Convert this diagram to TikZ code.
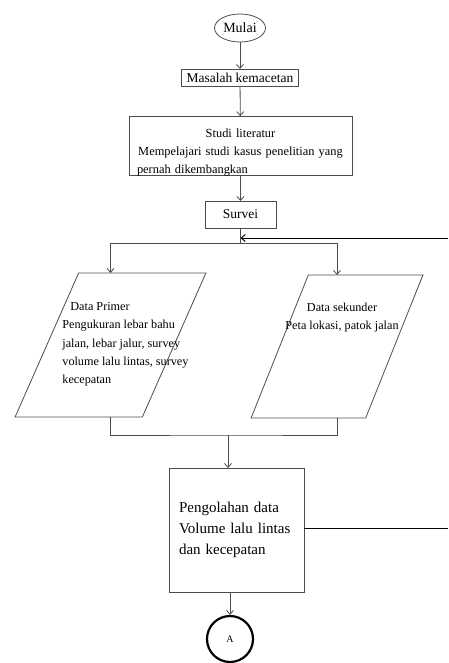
\documentclass[tikz,border=0pt]{standalone}
\usepackage{fontspec}
\setmainfont{Liberation Serif}
\usetikzlibrary{shapes.geometric,arrows.meta}
\tikzset{every picture/.style = {x=1pt, y=-1pt, line width=0.8pt}}
\tikzset{garis/.style = {draw=black!70}}
\tikzset{panah/.style = {garis, -{Straight Barb[length=4pt,width=7pt]}}}
\tikzset{kotak/.style = {draw=black!70, shape=rectangle, inner sep=0pt, outer sep=0pt}}
\tikzset{dataio/.style = {draw=black!70, shape=trapezium, trapezium left angle=76,
    trapezium right angle=104, trapezium stretches=true, inner sep=2pt, outer sep=0pt}}
\tikzset{teks/.style = {inner sep=0pt, font=\fontsize{12.2}{18.3}\selectfont}}

\begin{document}
\begin{tikzpicture}
  \useasboundingbox (0,0) rectangle (448,663);
  \node[draw=black!70, shape=ellipse, inner sep=0pt, minimum width=51pt, minimum height=28pt,
    font=\fontsize{14}{16}\selectfont] (mulai) at (240,28) {Mulai};
  \node[kotak, minimum width=117pt, minimum height=17pt,
    font=\fontsize{13.5}{15}\selectfont] (masalah) at (240,77.5) {Masalah kemacetan};
  \node[kotak, minimum width=223pt, minimum height=56pt, text width=207pt, align=left,
    font=\fontsize{12.4}{18}\selectfont] (studi) at (240.5,146)
    {\centering\noindent\rule{0pt}{21pt}Studi literatur\\Mempelajari studi kasus penelitian yang\par
     \raggedright\noindent pernah dikembangkan};
  \node[kotak, minimum width=71pt, minimum height=27pt,
    font=\fontsize{13.5}{15}\selectfont] (survei) at (240.5,214.5) {Survei};
  \node[dataio, minimum width=191pt, minimum height=144pt] (prim) at (110.5,345) {\strut};
  \node[dataio, minimum width=172pt, minimum height=143pt] (sek) at (337,346.5) {\strut};
  \node[teks, anchor=west, align=left] (primteks) at (62,344.5)
    {\hspace*{8pt}Data Primer\\Pengukuran lebar bahu\\jalan, lebar jalur, survey\\
     volume lalu lintas, survey\\kecepatan};
  \node[teks, align=center] (sekteks) at (342,317.5) {Data sekunder\\Peta lokasi, patok jalan};
  \node[kotak, minimum width=135pt, minimum height=124pt, text width=115pt, align=left,
    inner xsep=10pt, font=\fontsize{15}{21}\selectfont] (peng) at (236.5,530)
    {Pengolahan data\\Volume lalu lintas\\dan kecepatan};
  \node[draw, shape=circle, line width=2.2pt, minimum size=46pt, inner sep=0pt,
    font=\fontsize{10}{12}\selectfont] (a) at (230,639) {A};

  \coordinate (cab) at (240.5,243);
  \coordinate (balik) at (448,238);
  \coordinate (gabung) at (228,435);
  \coordinate (kanan) at (448,528);

  \draw[panah] (mulai) -- (masalah);
  \draw[panah] (masalah) -- (studi);
  \draw[panah] (studi) -- (survei);
  \draw[garis] (survei) -- (cab);
  \draw[panah] (cab) -| (prim.north);
  \draw[panah] (cab) -| (sek.north);
  \draw[panah, draw=black, line width=1pt] (balik) -- (balik -| cab);
  \draw[garis] (prim.south) |- (gabung) -| (sek.south);
  \draw[panah] (gabung) -- (gabung |- peng.north);
  \draw[garis, draw=black, line width=1pt] (peng.east |- kanan) -- (kanan);
  \draw[panah] (a.north |- peng.south) -- (a.north);
\end{tikzpicture}
\end{document}
